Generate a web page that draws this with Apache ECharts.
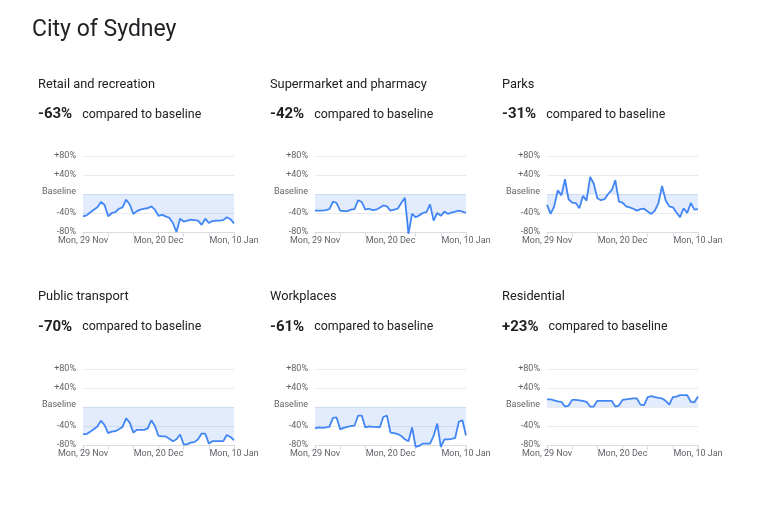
<!DOCTYPE html>
<html>
<head>
<meta charset="utf-8">
<script src="https://cdn.jsdelivr.net/npm/echarts@6/dist/echarts.min.js"></script>
<style>html,body{margin:0;padding:0;background:#fff}#c{width:762px;height:507px}</style>
</head>
<body>
<div id="c"></div>
<script>
const pageTitle = 'City of Sydney';
const dates = ['Mon, 29 Nov','Tue, 30 Nov','Wed, 1 Dec','Thu, 2 Dec','Fri, 3 Dec','Sat, 4 Dec','Sun, 5 Dec',
  'Mon, 6 Dec','Tue, 7 Dec','Wed, 8 Dec','Thu, 9 Dec','Fri, 10 Dec','Sat, 11 Dec','Sun, 12 Dec',
  'Mon, 13 Dec','Tue, 14 Dec','Wed, 15 Dec','Thu, 16 Dec','Fri, 17 Dec','Sat, 18 Dec','Sun, 19 Dec',
  'Mon, 20 Dec','Tue, 21 Dec','Wed, 22 Dec','Thu, 23 Dec','Fri, 24 Dec','Sat, 25 Dec','Sun, 26 Dec',
  'Mon, 27 Dec','Tue, 28 Dec','Wed, 29 Dec','Thu, 30 Dec','Fri, 31 Dec','Sat, 1 Jan','Sun, 2 Jan',
  'Mon, 3 Jan','Tue, 4 Jan','Wed, 5 Jan','Thu, 6 Jan','Fri, 7 Jan','Sat, 8 Jan','Sun, 9 Jan','Mon, 10 Jan'];
const panelNames = ['Retail and recreation','Supermarket and pharmacy','Parks','Public transport','Workplaces','Residential'];
const panelSummary = ['-63%','-42%','-31%','-70%','-61%','+23%'];
const yTicks = [-80, -40, 0, 40, 80];

const retail = [-47,-45,-39,-33,-28,-17,-23,-47,-40,-38,-31,-28,-12,-22,-42,-36,-33,-31,-30,-26,-33,-46,-44,-47,-50,-61,-80,-52,-58,-56,-54,-55,-56,-65,-52,-61,-57,-56,-56,-55,-49,-53,-62];
const supermarket = [-35,-35,-35,-34,-32,-16,-19,-35,-36,-36,-33,-32,-13,-17,-33,-31,-34,-33,-29,-24,-26,-35,-33,-31,-19,-8,-84,-42,-49,-45,-40,-38,-22,-56,-40,-46,-37,-42,-39,-37,-35,-37,-40];
const parks = [-23,-42,-26,8,-3,31,-11,-18,-19,-30,-4,-14,36,22,-9,-13,-11,0,8,29,-16,-18,-26,-28,-31,-35,-32,-31,-37,-42,-35,-19,17,-13,-26,-28,-39,-49,-30,-40,-19,-33,-32];
const transport = [-57,-57,-52,-47,-41,-29,-38,-55,-52,-51,-47,-42,-24,-33,-54,-48,-48,-48,-45,-28,-40,-61,-62,-62,-67,-72,-68,-58,-79,-78,-75,-74,-68,-56,-56,-77,-72,-72,-72,-72,-59,-63,-70];
const workplaces = [-45,-43,-44,-43,-42,-23,-22,-47,-44,-42,-40,-39,-18,-18,-43,-41,-42,-42,-43,-21,-18,-54,-55,-57,-61,-68,-72,-43,-84,-82,-77,-77,-77,-61,-35,-84,-68,-68,-67,-65,-31,-28,-60];
const residential = [16,16,14,12,11,1,3,15,15,14,13,11,1,1,13,13,13,13,13,1,3,15,16,17,18,18,5,4,21,23,21,19,18,13,5,21,22,25,25,25,11,10,22];
const seriesData = [retail, supermarket, parks, transport, workplaces, residential];

const colLeft = [83, 315, 547];
const textLeft = [38, 270, 502];
const rowTop = [156, 369];
const nameY = [85, 297];
const sumY = [113, 325.5];
const plotW = 151, plotH = 76;

const titles = [{
  text: pageTitle, left: 32, top: 18.5, padding: 0,
  textStyle: {fontFamily: 'Roboto', fontSize: 23, fontWeight: 'normal', color: '#202124'}
}];
const grids = [], xAxes = [], yAxes = [], series = [];
for (let i = 0; i < 6; i++) {
  const r = Math.floor(i / 3), c = i % 3;
  titles.push({
    text: panelNames[i], left: textLeft[c], top: nameY[r] - 6.5, padding: 0,
    textStyle: {fontFamily: 'Roboto', fontSize: 12.8, fontWeight: 'normal', color: '#202124'}
  });
  titles.push({
    text: '{v|' + panelSummary[i] + '}  {t|compared to baseline}', left: textLeft[c], top: sumY[r] - 7.5, padding: 0,
    textStyle: {fontWeight: 'normal', rich: {
      v: {fontFamily: 'Roboto', fontSize: 15, fontWeight: 'bold', color: '#202124'},
      t: {fontFamily: 'Roboto', fontSize: 12.4, fontWeight: 'normal', color: '#202124'}
    }}
  });
  grids.push({left: colLeft[c], top: rowTop[r], width: plotW, height: plotH, containLabel: false});
  xAxes.push({
    type: 'category', gridIndex: i, data: dates, boundaryGap: false,
    axisLine: {show: true, onZero: false, lineStyle: {color: '#dadce0', width: 1}},
    axisTick: {show: true, interval: 6, length: 5, lineStyle: {color: '#dadce0'}},
    axisLabel: {interval: 20, fontFamily: 'Roboto', fontSize: 9, color: '#5f6368', margin: 4,
      showMinLabel: true, showMaxLabel: true},
    splitLine: {show: false}
  });
  yAxes.push({
    type: 'value', gridIndex: i, min: -80, max: 80, interval: 40,
    axisLine: {show: false}, axisTick: {show: false},
    splitLine: {show: true, lineStyle: {color: '#e8eaed', width: 1}},
    axisLabel: {
      fontFamily: 'Roboto', fontSize: 9, color: '#5f6368', margin: 7,
      formatter: v => v === 0 ? '{b|Baseline}' : (v > 0 ? '+' : '') + v + '%',
      rich: {b: {fontFamily: 'Roboto', fontSize: 9, color: '#5f6368', padding: [0, 0, 5, 0]}}
    }
  });
  series.push({
    type: 'line', xAxisIndex: i, yAxisIndex: i, data: seriesData[i],
    symbol: 'none', clip: false,
    lineStyle: {color: '#4285f4', width: 1.8},
    areaStyle: {color: 'rgba(66,133,244,0.22)', origin: 0},
    silent: true, animation: false
  });
}

const chart = echarts.init(document.getElementById('c'), null, {renderer: 'canvas'});
chart.setOption({animation: false, backgroundColor: '#fff', title: titles, grid: grids, xAxis: xAxes, yAxis: yAxes, series: series});
</script>
</body>
</html>
